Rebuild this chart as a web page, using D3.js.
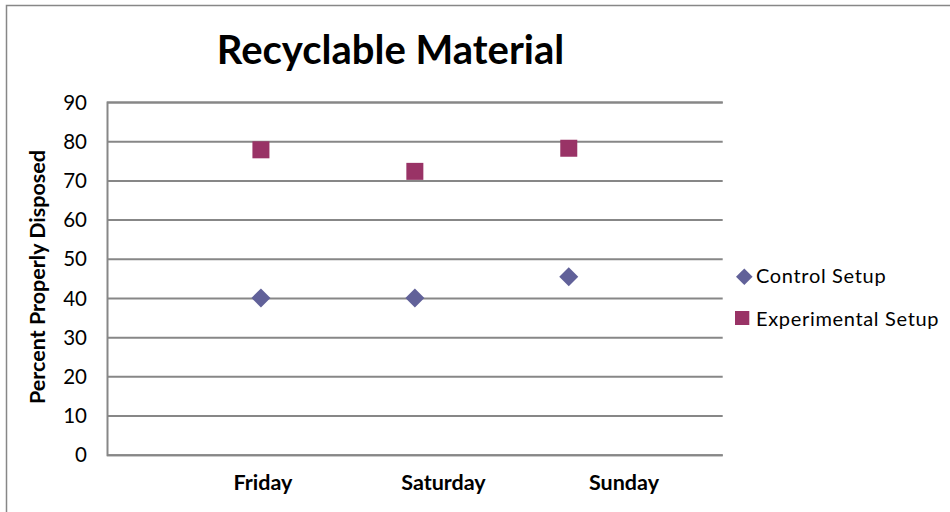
<!DOCTYPE html>
<html><head><meta charset="utf-8">
<script src="https://cdn.jsdelivr.net/npm/d3@7"></script>
<style>body{margin:0;background:#fff}svg{display:block}</style>
</head><body>
<script>
const days = ["Friday", "Saturday", "Sunday"];
const dayIndex = [1, 2, 3];
const controlValues = [40, 40, 45.4];
const experimentalValues = [77.8, 72.3, 78.2];
const yTicks = [0, 10, 20, 30, 40, 50, 60, 70, 80, 90];
const seriesNames = ["Control Setup", "Experimental Setup"];
const title = "Recyclable Material";
const yTitle = "Percent Properly Disposed";

(function () {
const W = 950, H = 512;
const font = "Lato, 'Open Sans', sans-serif";
const colControl = "#616199", colExp = "#993366", gridCol = "#878787";

const svg = d3.select("body").append("svg").attr("width", W).attr("height", H);
svg.append("rect").attr("x", 6.5).attr("y", 5.5).attr("width", W + 10).attr("height", H + 10)
  .attr("fill", "#fff").attr("stroke", gridCol).attr("stroke-width", 1.5);

const pLeft = 107, pRight = 722.7, pTop = 102, pBottom = 454.7;
const x = d3.scaleLinear().domain([0, 4]).range([pLeft, pRight]);
const y = d3.scaleLinear().domain([0, 90]).range([pBottom, pTop]);
const xLab = d3.scalePoint().domain(days).range([263, 624]);

const yAxis = d3.axisLeft(y).tickValues(yTicks).tickSize(-(pRight - pLeft)).tickPadding(20).tickFormat(d3.format("d"));
const gy = svg.append("g").attr("transform", `translate(${pLeft},0)`).call(yAxis);
gy.select(".domain").attr("stroke", gridCol).attr("stroke-width", 2);
gy.selectAll(".tick line").attr("stroke", gridCol).attr("stroke-width", 2);
gy.selectAll(".tick text").attr("font-family", font).attr("font-size", 20.5).attr("fill", "#000")
  .attr("x", -20).attr("dy", "0.35em");

svg.append("g").selectAll("text").data(days).join("text")
  .attr("x", d => xLab(d)).attr("y", 490).attr("text-anchor", "middle")
  .attr("font-family", font).attr("font-weight", "bold").attr("font-size", 21.5).text(d => d);

svg.append("text").attr("x", 390.5).attr("y", 64).attr("text-anchor", "middle")
  .attr("font-family", font).attr("font-weight", "bold").attr("font-size", 40).text(title);

svg.append("text").attr("transform", "translate(45,277) rotate(-90)").attr("text-anchor", "middle")
  .attr("font-family", font).attr("font-weight", "bold").attr("font-size", 21.5).text(yTitle);

function diamondPath(h) { return `M0,${-h}L${h},0L0,${h}L${-h},0Z`; }

svg.append("g").selectAll("path").data(controlValues).join("path")
  .attr("d", diamondPath(9.5))
  .attr("transform", (d, i) => `translate(${x(dayIndex[i])},${y(d)})`)
  .attr("fill", colControl);

svg.append("g").selectAll("rect").data(experimentalValues).join("rect")
  .attr("x", (d, i) => x(dayIndex[i]) - 8.5).attr("y", d => y(d) - 8.5)
  .attr("width", 17).attr("height", 17).attr("fill", colExp);

const lg = svg.append("g");
lg.append("path").attr("d", diamondPath(8.3)).attr("transform", "translate(744.3,276.7)").attr("fill", colControl);
lg.append("rect").attr("x", 735).attr("y", 311).attr("width", 14.3).attr("height", 14).attr("fill", colExp);
lg.selectAll("text").data(seriesNames).join("text")
  .attr("x", 756).attr("y", (d, i) => 283 + i * 42.5)
  .attr("font-family", font).attr("font-size", 20).attr("letter-spacing", 0.67).text(d => d);
})();
</script>
</body></html>
